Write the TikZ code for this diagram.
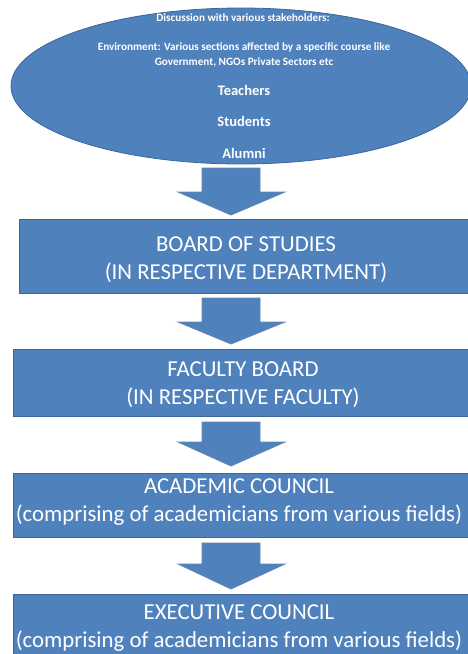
\documentclass[tikz,border=0pt]{standalone}
\usepackage{fontspec}
\setmainfont{Carlito}
\usetikzlibrary{shapes.geometric}
\definecolor{ofblue}{HTML}{4F81BD}
\definecolor{ofedge}{HTML}{3C679B}
\tikzset{
  blockbox/.style={draw=ofedge, line width=0.8pt, fill=ofblue, anchor=north west, inner sep=0pt},
  boxtext/.style={text=white, font=\fontsize{22.8}{28}\selectfont, anchor=center},
  elltext/.style={text=white, font=\bfseries\fontsize{11.2}{15}\selectfont, anchor=center},
  bigelltext/.style={text=white, font=\bfseries\fontsize{14.5}{17}\selectfont, anchor=center},
  blockarrow/.style={draw=ofedge!80, line width=0.8pt, fill=ofblue}
}
\newcommand{\myblockarrow}[4]{%
  % #1 shaft top y, #2 head start y, #3 tip y, #4 name
  \coordinate (#4) at (231,#3);
  \draw[blockarrow] (202,#1) -- (260,#1) -- (260,#2) -- (285,#2) -- (#4) -- (178,#2) -- (202,#2) -- cycle;
}
\begin{document}
\begin{tikzpicture}[x=1pt,y=-1pt]
\useasboundingbox (0,0) rectangle (468,654);
\clip (0,0) rectangle (468,654);
% ellipse
\node[ellipse, draw=ofedge, line width=0.8pt, fill=ofblue, minimum width=460pt, minimum height=156pt, inner sep=0pt] (ell) at (241,86) {};
\node[elltext] (t1) at (243,18) {Discussion with various stakeholders:};
\node[elltext, align=center] (t2) at (244,54.5) {Environment: Various sections affected by a specific course like\\Government, NGOs Private Sectors etc};
\node[bigelltext] (t3) at (244,90) {Teachers};
\node[bigelltext] (t4) at (244,121) {Students};
\node[bigelltext] (t5) at (244,153) {Alumni};
% arrows and boxes
\myblockarrow{168}{192}{215}{a1}
\node[blockbox, minimum width=460pt, minimum height=74pt] (b1) at (19,219) {};
\node[boxtext, align=center] (b1t) at (246,260) {BOARD OF STUDIES\\(IN RESPECTIVE DEPARTMENT)};
\myblockarrow{298}{322}{344}{a2}
\node[blockbox, minimum width=465pt, minimum height=67pt] (b2) at (13,349) {};
\node[boxtext, align=center] (b2t) at (243,384.5) {FACULTY BOARD\\(IN RESPECTIVE FACULTY)};
\myblockarrow{422}{442}{466}{a3}
\node[blockbox, minimum width=465pt, minimum height=64pt] (b3) at (13,473) {};
\node[boxtext, align=center] (b3t) at (239,502) {ACADEMIC COUNCIL\\(comprising of academicians from various fields)};
\myblockarrow{543}{564}{589}{a4}
\node[blockbox, minimum width=465pt, minimum height=70pt] (b4) at (13,594) {};
\node[boxtext, align=center] (b4t) at (239,628) {EXECUTIVE COUNCIL\\(comprising of academicians from various fields)};
\end{tikzpicture}
\end{document}
